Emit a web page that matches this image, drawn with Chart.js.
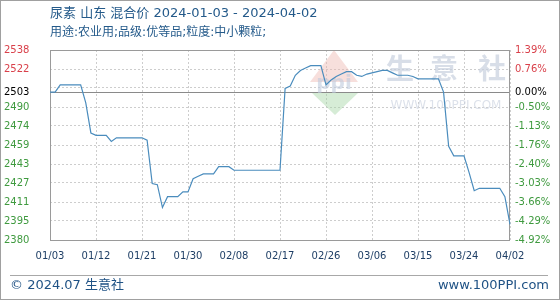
<!DOCTYPE html>
<html>
<head>
<meta charset="utf-8">
<script src="https://cdn.jsdelivr.net/npm/chart.js@4.4.1/dist/chart.umd.min.js"></script>
<style>
  body { margin: 0; background: #fff; }
  #wrap { width: 560px; height: 300px; }
</style>
</head>
<body>
<div id="wrap"><canvas id="myChart" width="560" height="300"></canvas></div>
<script>
// daily dates 2024-01-03 .. 2024-04-02
const dates = [
  '01/03','01/04','01/05','01/06','01/07','01/08','01/09','01/10','01/11','01/12',
  '01/13','01/14','01/15','01/16','01/17','01/18','01/19','01/20','01/21','01/22',
  '01/23','01/24','01/25','01/26','01/27','01/28','01/29','01/30','01/31',
  '02/01','02/02','02/03','02/04','02/05','02/06','02/07','02/08','02/09','02/10',
  '02/11','02/12','02/13','02/14','02/15','02/16','02/17','02/18','02/19','02/20',
  '02/21','02/22','02/23','02/24','02/25','02/26','02/27','02/28','02/29',
  '03/01','03/02','03/03','03/04','03/05','03/06','03/07','03/08','03/09','03/10',
  '03/11','03/12','03/13','03/14','03/15','03/16','03/17','03/18','03/19','03/20',
  '03/21','03/22','03/23','03/24','03/25','03/26','03/27','03/28','03/29','03/30','03/31',
  '04/01','04/02'
];

// 尿素 山东 混合价 (元/吨)
const prices = [
  2503, 2503, 2509, 2509, 2509, 2509, 2509, 2494, 2469, 2467,
  2467, 2467, 2462, 2465, 2465, 2465, 2465, 2465, 2465, 2463,
  2427, 2426, 2407, 2416, 2416, 2416, 2420, 2420, 2431, 2433,
  2435, 2435, 2435, 2441, 2441, 2441, 2438, 2438, 2438, 2438,
  2438, 2438, 2438, 2438, 2438, 2438, 2506, 2508, 2517, 2521,
  2523, 2525, 2525, 2525, 2509, 2513, 2516, 2518, 2520, 2520,
  2517, 2516, 2518, 2519, 2520, 2521, 2521, 2519, 2517, 2517,
  2517, 2516, 2514, 2514, 2514, 2514, 2514, 2503, 2458, 2450,
  2450, 2450, 2436, 2421, 2423, 2423, 2423, 2423, 2423, 2416, 2393
];

const basePrice = 2503;
const xTickLabels = ['01/03','01/12','01/21','01/30','02/08','02/17','02/26','03/06','03/15','03/24','04/02'];
const yTicks = [2380, 2395.8, 2411.6, 2427.4, 2443.2, 2459, 2474.8, 2490.6, 2503, 2506.4, 2522.2, 2538];
const yTickLabels = ['2380','2395','2411','2427','2443','2459','2474','2490','2503','','2522','2538'];
const pctLabels = ['-4.92%','-4.29%','-3.66%','-3.03%','-2.40%','-1.76%','-1.13%','-0.50%','0.00%','','0.76%','1.39%'];

const tickFont = { family: 'DejaVu Sans', size: 10 };
const upColor = '#d9404a';
const downColor = '#3f9a3f';

function tickColor(ctx) {
  const v = ctx.tick.value;
  if (v === basePrice) return '#000';
  return v > basePrice ? upColor : downColor;
}

const decor = {
  id: 'decor',
  beforeDraw(chart) {
    const c = chart.ctx;
    c.save();
    c.fillStyle = '#fff';
    c.fillRect(0, 0, chart.width, chart.height);
    c.restore();
  },
  beforeDatasetsDraw(chart) {
    const c = chart.ctx;
    const a = chart.chartArea;
    c.save();
    // watermark logo
    c.fillStyle = 'rgba(238,185,178,0.45)';
    c.beginPath(); c.moveTo(334, 50); c.lineTo(310, 82); c.lineTo(358, 82); c.closePath(); c.fill();
    c.fillStyle = 'rgba(165,212,165,0.45)';
    c.beginPath(); c.moveTo(312, 93); c.lineTo(358, 93); c.lineTo(335, 115); c.closePath(); c.fill();
    c.fillStyle = 'rgba(190,202,220,0.6)';
    c.font = 'bold 20px "DejaVu Sans"';
    c.textAlign = 'center';
    c.textBaseline = 'middle';
    c.fillText('ppi', 334, 84);
    // watermark text
    c.fillStyle = 'rgba(200,208,222,0.7)';
    c.font = 'bold 28px "Noto Sans CJK SC"';
    c.fillText('生', 400, 68);
    c.fillText('意', 444, 68);
    c.fillText('社', 492, 68);
    c.fillStyle = 'rgba(205,212,225,0.7)';
    c.font = '12px "DejaVu Sans"';
    c.fillText('WWW.100PPI.COM', 446, 106);
    // plot frame
    c.strokeStyle = '#9a9a9a';
    c.lineWidth = 1;
    c.strokeRect(Math.round(a.left) + 0.5, Math.round(a.top) + 0.5,
      Math.round(a.right - a.left) - 1, Math.round(a.bottom - a.top));
    c.restore();
  },
  afterDraw(chart) {
    const c = chart.ctx;
    c.save();
    c.textBaseline = 'middle';
    c.textAlign = 'left';
    c.fillStyle = '#245a8a';
    c.font = '13px "DejaVu Sans", "Noto Sans CJK SC"';
    c.fillText('尿素 山东 混合价 2024-01-03 - 2024-04-02', 50, 14);
    c.font = '12px "DejaVu Sans", "Noto Sans CJK SC"';
    c.fillText('用途:农业用;品级:优等品;粒度:中小颗粒;', 50, 33);
    // footer
    c.strokeStyle = '#a8a8a8';
    c.beginPath(); c.moveTo(10, 275.5); c.lineTo(548, 275.5); c.stroke();
    c.fillStyle = '#1f5285';
    c.font = '13px "DejaVu Sans", "Noto Sans CJK SC"';
    c.fillText('© 2024.07 生意社', 10, 286);
    c.textAlign = 'right';
    c.fillText('www.100PPI.com', 549, 286);
    // outer frame
    c.strokeStyle = '#a0a0a0';
    c.strokeRect(0.5, 0.5, chart.width - 1, chart.height - 1);
    c.restore();
  }
};

const ctx = document.getElementById('myChart').getContext('2d');
window.myChart = new Chart(ctx, {
  type: 'line',
  data: {
    labels: dates,
    datasets: [{
      label: '尿素',
      data: prices,
      borderColor: '#4a8cbd',
      borderWidth: 1.2,
      pointRadius: 0,
      tension: 0,
      fill: false
    }]
  },
  options: {
    responsive: false,
    animation: false,
    layout: { padding: { left: 4, right: 0, top: 50, bottom: 0 } },
    plugins: { legend: { display: false }, tooltip: { enabled: false } },
    scales: {
      x: {
        type: 'category',
        offset: false,
        grid: {
          drawTicks: false,
          color: c => xTickLabels.includes(dates[c.index]) ? '#cdcdcd' : 'rgba(0,0,0,0)'
        },
        border: { display: false, dash: [2, 2] },
        ticks: {
          autoSkip: false,
          maxRotation: 0,
          padding: 10,
          color: '#1f3f66',
          font: tickFont,
          callback: (v, i) => xTickLabels.includes(dates[i]) ? dates[i] : ''
        },
        afterFit: s => { s.height = 60; }
      },
      y: {
        position: 'left',
        min: 2380,
        max: 2538,
        afterBuildTicks: s => { s.ticks = yTicks.map(v => ({ value: v })); },
        grid: {
          drawTicks: false,
          color: c => c.tick.value === basePrice ? '#8a8a8a' : '#cdcdcd'
        },
        border: { display: false, dash: c => c.tick.value === basePrice ? [] : [2, 2] },
        ticks: {
          autoSkip: false,
          crossAlign: 'far',
          font: tickFont,
          color: tickColor,
          callback: (v, i) => yTickLabels[i]
        },
        afterFit: s => { s.width = 46; }
      },
      y2: {
        position: 'right',
        min: 2380,
        max: 2538,
        afterBuildTicks: s => { s.ticks = yTicks.map(v => ({ value: v })); },
        grid: { display: false, drawTicks: false },
        border: { display: false },
        ticks: {
          autoSkip: false,
          padding: 5,
          font: tickFont,
          color: tickColor,
          callback: (v, i) => pctLabels[i]
        },
        afterFit: s => { s.width = 50; }
      }
    }
  },
  plugins: [decor]
});
</script>
</body>
</html>
